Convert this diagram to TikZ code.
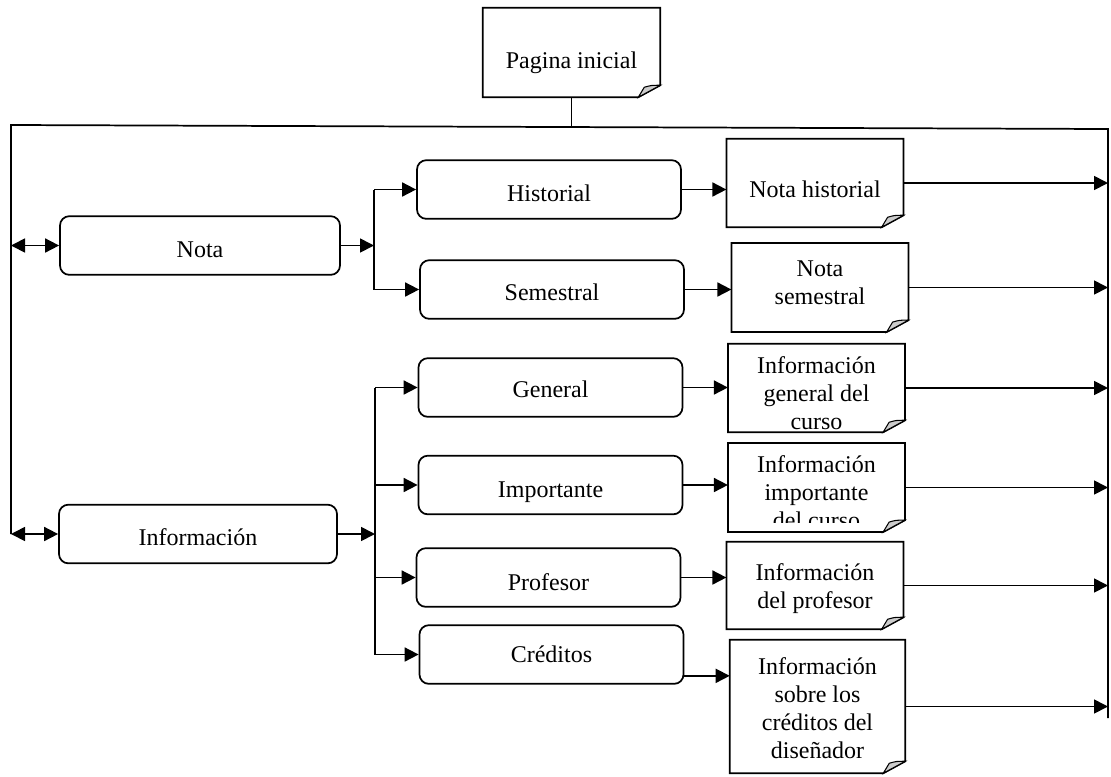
\documentclass[tikz,border=0pt]{standalone}
\usepackage{fontspec}
\setmainfont{Liberation Serif}
\usetikzlibrary{arrows.meta,calc,backgrounds}
\begin{document}
\begin{tikzpicture}[x=0.75pt,y=-0.75pt,
  every node/.style={font=\fontsize{18pt}{21pt}\selectfont, inner sep=0pt, align=center},
  link/.style={line width=1.3pt},
  menubox/.style={draw, link, rounded corners=7pt, minimum width=198pt, minimum height=44pt, fill=white},
  notebox/.style={minimum width=132.5pt, minimum height=66.5pt},
  txt/.style 2 args={label={[yshift=#1]center:#2}},
  arr/.style={link, -{Triangle[length=10.5pt,width=10.5pt]}},
  dbl/.style={link, {Triangle[length=10.5pt,width=10.5pt]}-{Triangle[length=10.5pt,width=10.5pt]}},
]
\useasboundingbox (0,0) rectangle (1111,776);

% main menu entries
\node[menubox, minimum width=210pt, txt={-3.4pt}{Nota}] (nota) at (200,245.5) {};
\node[menubox, minimum width=208.5pt, txt={-2.6pt}{Información}] (info) at (198,534) {};

% sub-menu entries
\node[menubox, txt={-2.6pt}{Historial}] (hist) at (549,189.5) {};
\node[menubox, txt={-2.3pt}{Semestral}] (sem)  at (552,289.5) {};
\node[menubox, txt={-1.2pt}{General}] (gen)  at (550.5,387.5) {};
\node[menubox, txt={-5.2pt}{Importante}] (imp)  at (550.5,485) {};
\node[menubox, txt={-3.8pt}{Profesor}] (prof) at (548.5,577.5) {};
\node[menubox, txt={0pt}{Créditos}] (cred) at (551.5,654.5) {};

% pages (document shapes)
\node[notebox, minimum width=132.75pt, minimum height=66.75pt, txt={-7.5pt}{Pagina inicial}] (pag) at (571.5,52.5) {};
\node[notebox, minimum height=66pt, txt={-4.5pt}{Nota historial}] (nh) at (815,183) {};
\node[notebox, txt={3.4pt}{Nota\\semestral}] (ns) at (820,287.5) {};
\node[notebox, minimum height=66pt, txt={-4.1pt}{Información\\general del\\curso}] (ig) at (816.5,388) {};
\begin{scope}
  \clip (728,443) rectangle (905,522);
  \node[notebox, txt={-3.4pt}{Información\\importante\\del curso}] (ii) at (816.5,487.5) {};
\end{scope}
\node[notebox, minimum height=65.25pt, txt={-2.2pt}{Información\\del profesor}] (ip) at (815,585.5) {};
\node[notebox, minimum width=131.25pt, minimum height=99.75pt, txt={-1.1pt}{Información\\sobre los\\créditos del\\diseñador}] (ic) at (817.5,706.5) {};

% page outlines with folded corner
\begin{scope}[on background layer]
\foreach \n in {pag,nh,ns,ig,ii,ip,ic}{
  \draw[link, fill=white] (\n.north west) -- (\n.north east) -- ($(\n.south east)+(0,-12)$)
      -- ($(\n.south east)+(-22,0)$) -- (\n.south west) -- cycle;
  \draw[line width=0.8pt, fill=gray!40] ($(\n.south east)+(-22,0)$) -- ($(\n.south east)+(-16,-10)$)
      .. controls ($(\n.south east)+(-9,-12)$) .. ($(\n.south east)+(0,-12)$) -- cycle;
}
\end{scope}

% frame of return links
\coordinate (tl) at (11,125);
\coordinate (tr) at (1108,129);
\coordinate (tj) at (571.5,127);
\coordinate (rb) at (1108,718);
\draw[link] (info.west -| tl) -- (tl) -- (tr) -- (rb);
\draw[link] (pag.south) -- (tj);

\draw[dbl] (nota.west -| tl) -- (nota.west);
\draw[dbl] (info.west -| tl) -- (info.west);

% branch from Nota
\coordinate (nbus) at (374,245);
\draw[arr] (nota.east) -- (nota.east -| nbus);
\draw[link] (hist.west -| nbus) -- (sem.west -| nbus);
\draw[arr] (hist.west -| nbus) -- (hist.west);
\draw[arr] (sem.west -| nbus) -- (sem.west);

% branch from Información
\coordinate (ibus) at (375,534);
\draw[arr] (info.east) -- (info.east -| ibus);
\draw[link] (gen.west -| ibus) -- (cred.west -| ibus);
\foreach \m in {gen,imp,prof,cred}
  \draw[arr] (\m.west -| ibus) -- (\m.west);

% sub-menu to page
\draw[arr] (hist.east) -- (hist.east -| nh.west);
\draw[arr] (sem.east) -- (sem.east -| ns.west);
\draw[arr] (gen.east) -- (gen.east -| ig.west);
\draw[arr] (imp.east) -- (imp.east -| ii.west);
\draw[arr] (prof.east) -- (prof.east -| ip.west);
\draw[arr] ([yshift=-16pt]cred.east) -- ([yshift=-16pt]cred.east -| ic.west);

% page back to the frame
\foreach \p in {nh,ns,ig,ii,ip,ic}
  \draw[arr] (\p.east) -- (\p.east -| tr);
\end{tikzpicture}
\end{document}
